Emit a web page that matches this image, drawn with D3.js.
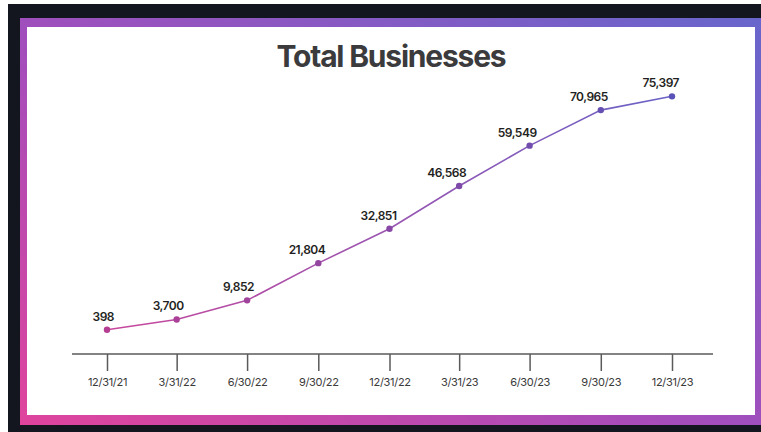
<!DOCTYPE html>
<html>
<head>
<meta charset="utf-8">
<script src="https://cdn.jsdelivr.net/npm/d3@7"></script>
<style>
  body { margin: 0; background: #fff; }
  svg { display: block; }
</style>
</head>
<body>
<svg width="761" height="432"></svg>
<script>
// data
let dates = ['12/31/21', '3/31/22', '6/30/22', '9/30/22', '12/31/22', '3/31/23', '6/30/23', '9/30/23', '12/31/23'];
let businesses = [398, 3700, 9852, 21804, 32851, 46568, 59549, 70965, 75397];

let parse = d3.timeParse('%m/%d/%y');
let data = dates.map((d, i) => ({label: d, date: parse(d), value: businesses[i]}));

let svg = d3.select('svg');
let defs = svg.append('defs');

// dark backdrop + gradient frame
svg.append('rect')
    .attr('x', 8).attr('y', 4)
    .attr('width', 753).attr('height', 428)
    .attr('fill', '#13161e');

let frameGrad = defs.append('linearGradient')
    .attr('id', 'frameGrad')
    .attr('x1', '0%').attr('y1', '100%')
    .attr('x2', '100%').attr('y2', '0%');
frameGrad.append('stop').attr('offset', '0%').attr('stop-color', '#e0449c');
frameGrad.append('stop').attr('offset', '45%').attr('stop-color', '#a54dbb');
frameGrad.append('stop').attr('offset', '100%').attr('stop-color', '#6766cc');

svg.append('rect')
    .attr('x', 20).attr('y', 18)
    .attr('width', 742).attr('height', 407)
    .attr('fill', 'url(#frameGrad)');

svg.append('rect')
    .attr('x', 27).attr('y', 27)
    .attr('width', 728).attr('height', 388)
    .attr('fill', '#ffffff');

// title
svg.append('text')
    .attr('x', 391)
    .attr('y', 67)
    .attr('text-anchor', 'middle')
    .style('font-family', 'Inter, Roboto, sans-serif')
    .style('font-weight', 700)
    .style('font-size', '30px')
    .style('letter-spacing', '-1.2px')
    .style('fill', '#3b3b3d')
    .text('Total Businesses');

// scales
let x = d3.scaleTime()
    .domain(d3.extent(data, d => d.date))
    .range([107, 672]);

let y = d3.scaleLinear()
    .domain([0, 80000])
    .range([331, 82]);

// axis
let g = svg.append('g');
g.append('line')
    .attr('x1', 72).attr('x2', 713)
    .attr('y1', 354).attr('y2', 354)
    .attr('stroke', '#5a5a5a')
    .attr('stroke-width', 1.5);

let xAxis = d3.axisBottom(x)
    .tickValues(data.map(d => d.date))
    .tickFormat((d, i) => dates[i])
    .tickSize(17)
    .tickPadding(7);

let ax = g.append('g')
    .attr('transform', 'translate(0,354)')
    .call(xAxis);
ax.select('.domain').remove();
ax.selectAll('.tick line')
    .attr('stroke', '#5a5a5a')
    .attr('stroke-width', 1.5);
ax.selectAll('.tick text')
    .style('font-family', 'Inter, Roboto, sans-serif')
    .style('font-size', '11px')
    .style('letter-spacing', '-0.3px')
    .style('fill', '#3a3a3a');

// line
let lineGrad = defs.append('linearGradient')
    .attr('id', 'lineGrad')
    .attr('gradientUnits', 'userSpaceOnUse')
    .attr('x1', x.range()[0]).attr('x2', x.range()[1])
    .attr('y1', 0).attr('y2', 0);
lineGrad.append('stop').attr('offset', '0%').attr('stop-color', '#c8479c');
lineGrad.append('stop').attr('offset', '100%').attr('stop-color', '#6a63c6');

let col = d3.scaleLinear()
    .domain(x.range())
    .range(['#b53e92', '#5b52b8'])
    .interpolate(d3.interpolateRgb);

let line = d3.line()
    .x(d => x(d.date))
    .y(d => y(d.value));

g.append('path')
    .datum(data)
    .attr('d', line)
    .attr('fill', 'none')
    .attr('stroke', 'url(#lineGrad)')
    .attr('stroke-width', 1.6);

g.selectAll('.point')
    .data(data)
    .enter().append('circle')
    .attr('class', 'point')
    .attr('cx', d => x(d.date))
    .attr('cy', d => y(d.value))
    .attr('r', 3.2)
    .attr('fill', d => col(x(d.date)));

g.selectAll('.val')
    .data(data)
    .enter().append('text')
    .attr('class', 'val')
    .attr('x', d => x(d.date) + 7)
    .attr('y', d => y(d.value) - 9)
    .attr('text-anchor', 'end')
    .style('font-family', 'Inter, Roboto, sans-serif')
    .style('font-weight', 600)
    .style('font-size', '12px')
    .style('letter-spacing', '-0.5px')
    .style('fill', '#1f1f22')
    .text(d => d3.format(',')(d.value));
</script>
</body>
</html>
